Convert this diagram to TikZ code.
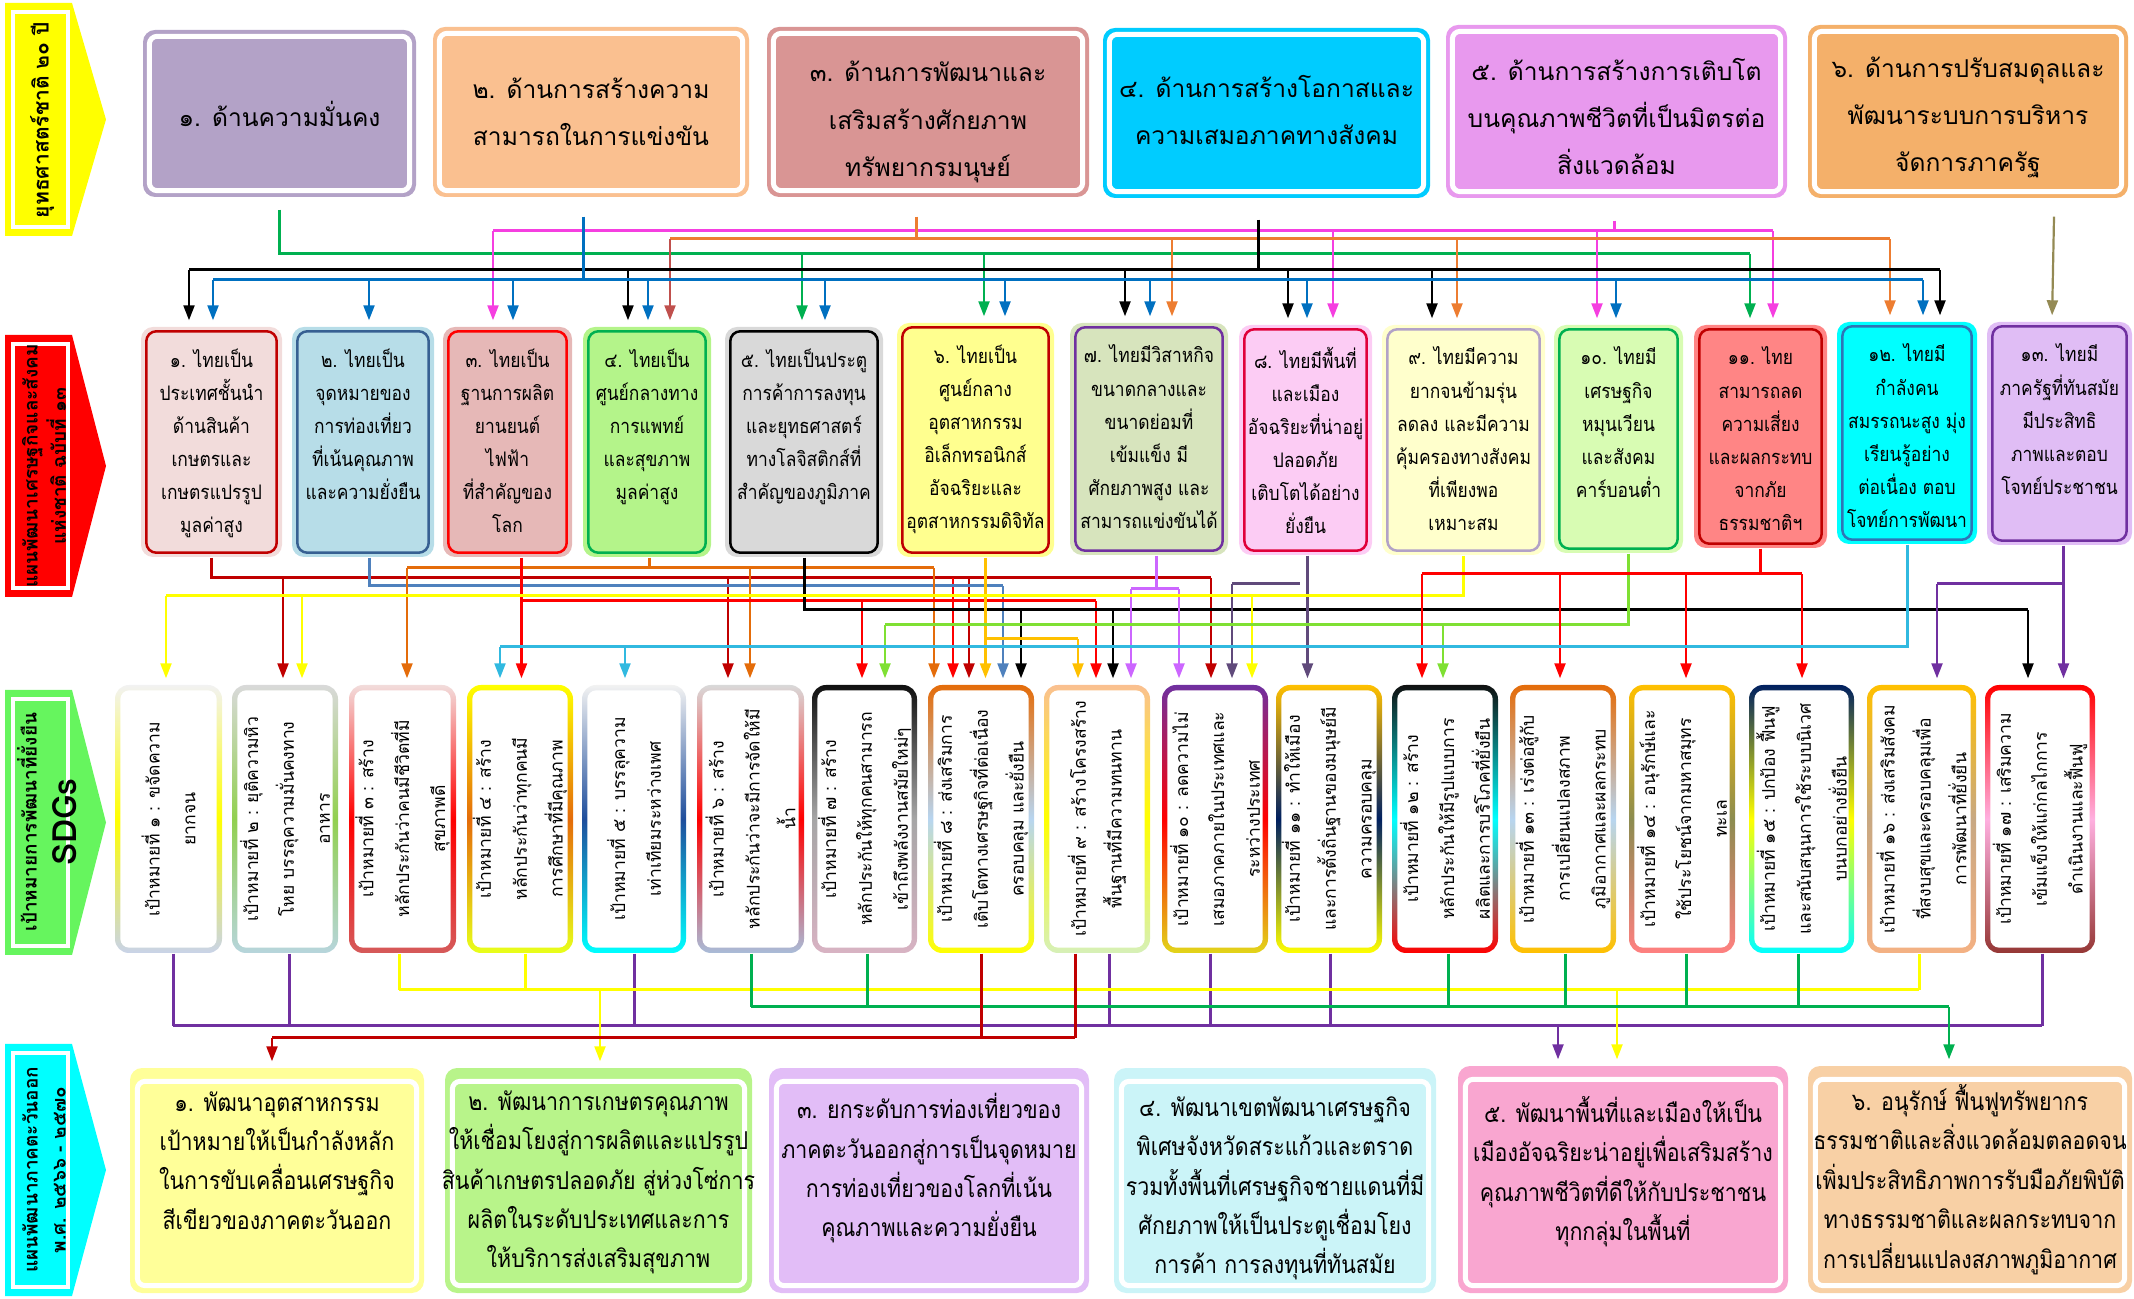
\documentclass[tikz,border=0pt]{standalone}
\usepackage{fontspec}
\newfontfamily\thai[Script=Thai]{Loma}
\newfontfamily\thaic[Script=Thai,FakeStretch=0.87]{Loma}
\usetikzlibrary{arrows.meta}

% box colours
\definecolor{tA}{HTML}{B3A2C7}
\definecolor{tB}{HTML}{FAC090}
\definecolor{tC}{HTML}{D99594}
\definecolor{tD}{HTML}{00CCFF}
\definecolor{tE}{HTML}{E899EE}
\definecolor{tF}{HTML}{F4B06A}
\definecolor{gA}{HTML}{F2DCDB}\definecolor{gAb}{HTML}{C00000}
\definecolor{gB}{HTML}{B7DDE8}\definecolor{gBb}{HTML}{376092}
\definecolor{gC}{HTML}{E6B8B7}\definecolor{gCb}{HTML}{FF0000}
\definecolor{gD}{HTML}{B4F48A}\definecolor{gDb}{HTML}{00B050}
\definecolor{gE}{HTML}{D9D9D9}\definecolor{gEb}{HTML}{000000}
\definecolor{gF}{HTML}{FFFF8F}\definecolor{gFb}{HTML}{C00000}
\definecolor{gG}{HTML}{D7E4BD}\definecolor{gGb}{HTML}{7030A0}
\definecolor{gH}{HTML}{FCCCF4}\definecolor{gHb}{HTML}{E0003A}
\definecolor{gI}{HTML}{FFFFCC}\definecolor{gIb}{HTML}{B2A2C7}
\definecolor{gJ}{HTML}{D8FCB3}\definecolor{gJb}{HTML}{00B050}
\definecolor{gK}{HTML}{FF8585}\definecolor{gKb}{HTML}{C00000}
\definecolor{gL}{HTML}{00FFFF}\definecolor{gLb}{HTML}{2E75B6}
\definecolor{gM}{HTML}{E0BDF5}\definecolor{gMb}{HTML}{7030A0}
\definecolor{eA}{HTML}{FFFF99}
\definecolor{eB}{HTML}{B8F48A}
\definecolor{eC}{HTML}{E2BDF7}
\definecolor{eD}{HTML}{CBF4F8}
\definecolor{eE}{HTML}{F9A6D0}
\definecolor{eF}{HTML}{F8D0A5}
\definecolor{sideY}{HTML}{FFFF00}
\definecolor{sideR}{HTML}{FF0000}
\definecolor{sideG}{HTML}{66F55E}
\definecolor{sideC}{HTML}{00FFFF}
% sdg frame colours
\definecolor{sGray}{HTML}{F2F2F2}\definecolor{sGrayB}{HTML}{D9D9D9}
\definecolor{sLav}{HTML}{C9D3E8}\definecolor{sTeal}{HTML}{B7D5DC}
\definecolor{sRose}{HTML}{D55A5A}\definecolor{sPinkL}{HTML}{F2DCDB}
\definecolor{sYel}{HTML}{FFFF00}\definecolor{sLime}{HTML}{E8FF1A}
\definecolor{sOrg}{HTML}{E46C0A}\definecolor{sRed}{HTML}{FF0000}
\definecolor{sCyan}{HTML}{00FFFF}\definecolor{sNavy}{HTML}{002060}
\definecolor{sBlueG}{HTML}{A9BCD8}\definecolor{sBlk}{HTML}{111111}
\definecolor{sPinkG}{HTML}{D8B3C3}\definecolor{sPeach}{HTML}{FAC090}
\definecolor{sLGreen}{HTML}{D6F0B8}\definecolor{sPurp}{HTML}{7030A0}
\definecolor{sOlive}{HTML}{E2D51A}\definecolor{sGold}{HTML}{FFC000}
\definecolor{sSalmon}{HTML}{FF8080}\definecolor{sTan}{HTML}{F4B183}
\definecolor{sMaroon}{HTML}{953735}\definecolor{sBlueMid}{HTML}{1F4E9C}
\definecolor{sGreenMid}{HTML}{92D050}\definecolor{sMidGray}{HTML}{A6A6A6}
\definecolor{sIce}{HTML}{B7D5F0}\definecolor{sKhaki}{HTML}{8C8C50}
\definecolor{sPinkMid}{HTML}{FFB0E0}\definecolor{sBeige}{HTML}{C8A882}
% connector colours
\definecolor{cGreen}{HTML}{00B050}
\definecolor{cBlue}{HTML}{0070C0}
\definecolor{cPink}{HTML}{F53FE0}
\definecolor{cOrange}{HTML}{ED7D31}
\definecolor{cRose}{HTML}{C0504D}
\definecolor{cOlive}{HTML}{948A54}
\definecolor{cDRed}{HTML}{C00000}
\definecolor{cSteel}{HTML}{4F81BD}
\definecolor{cOrg}{HTML}{E46C0A}
\definecolor{cRed}{HTML}{FF0000}
\definecolor{cGold}{HTML}{FFC000}
\definecolor{cLilac}{HTML}{CC66FF}
\definecolor{cPlum}{HTML}{604A7B}
\definecolor{cYellow}{HTML}{FFFF00}
\definecolor{cLime}{HTML}{7FE033}
\definecolor{cSky}{HTML}{31B9E0}
\definecolor{cPurple}{HTML}{7030A0}

\begin{document}
\begin{tikzpicture}[x=0.1mm, y=-0.1mm,
    bus/.style={line width=0.3mm},
    drop/.style={line width=0.22mm, -{Triangle[length=1.5mm,width=1.1mm]}, shorten >=0.6mm},
    planbox/.style={rounded corners=1.2mm, inner sep=0pt},
    plantext/.style={align=center, inner sep=0pt, font=\thai\fontsize{7}{13.4}\selectfont},
    goalbox/.style={rounded corners=1.2mm, inner sep=0pt},
    goaltext/.style={align=center, inner sep=0pt, anchor=north, font=\thaic\fontsize{5.7}{9.4}\selectfont},
    sdgbox/.style={rounded corners=1.4mm, inner sep=0pt},
    sdgtext/.style={align=center, inner sep=0pt, rotate=90, font=\thai\fontsize{5}{10.2}\selectfont},
    easttext/.style={align=center, inner sep=0pt, font=\thaic\fontsize{7}{11.2}\selectfont},
    sidetext/.style={align=center, inner sep=0pt, rotate=90, font=\thai\bfseries\fontsize{5.4}{8}\selectfont}]
\useasboundingbox (0,0) rectangle (2134,1299);

% ---- side arrows
\foreach \col/\ya/\yb in {sideY/3/236, sideR/335/597, sideG/690/955, sideC/1044/1296}{
  \pgfmathsetmacro\ym{(\ya+\yb)/2}
  \fill[\col] (5,\ya) -- (72,\ya) -- (106,\ym) -- (72,\yb) -- (5,\yb) -- cycle;
  \draw[white, line width=0.4mm] (13,\ya+9) rectangle (68,\yb-9);
}
\node[sidetext, font=\thai\bfseries\fontsize{6}{8}\selectfont] (l1) at (42,120) {ยุทธศาสตร์ชาติ ๒๐ ปี};
\node[sidetext] (l2) at (44,466) {แผนพัฒนาเศรษฐกิจและสังคม\\แห่งชาติ ฉบับที่ ๑๓};
\node[sidetext] (l3) at (47,822) {เป้าหมายการพัฒนาที่ยั่งยืน\\[1.2mm]{\fontsize{9.5}{11}\selectfont SDGs}};
\node[sidetext] (l4) at (44,1170) {แผนพัฒนาภาคตะวันออก\\พ.ศ. ๒๕๖๖ - ๒๕๗๐};

% ---- national strategy
\foreach \n/\xa/\ya/\xb/\yb/\dy/\col/\txt in {
  t1/143/30/416/197/0/tA/{๑. ด้านความมั่นคง},
  t2/433/27/749/197/0/tB/{๒. ด้านการสร้างความ\\สามารถในการแข่งขัน},
  t3/767/27/1089/197/10/tC/{๓. ด้านการพัฒนาและ\\เสริมสร้างศักยภาพ\\ทรัพยากรมนุษย์},
  t4/1103/28/1430/198/-3/tD/{๔. ด้านการสร้างโอกาสและ\\ความเสมอภาคทางสังคม},
  t5/1446/25/1787/198/5/tE/{๕. ด้านการสร้างการเติบโต\\บนคุณภาพชีวิตที่เป็นมิตรต่อ\\สิ่งแวดล้อม},
  t6/1808/25/2128/198/6/tF/{๖. ด้านการปรับสมดุลและ\\พัฒนาระบบการบริหาร\\จัดการภาครัฐ}}{
  \pgfmathsetmacro\bw{(\xb-\xa)/10}
  \pgfmathsetmacro\bh{(\yb-\ya)/10}
  \node[planbox, fill=\col, minimum width=\bw mm, minimum height=\bh mm] (\n) at ({(\xa+\xb)/2},{(\ya+\yb)/2}) {};
  \draw[white, line width=0.5mm, rounded corners=0.8mm] ([shift={(7,7)}]\n.north west) rectangle ([shift={(-7,-7)}]\n.south east);
  \node[plantext] at ([shift={(0,\dy)}]\n.center) {\txt};
}

% ---- plan 13 goals
\foreach \n/\xa/\ya/\xb/\yb/\cf/\cb/\txt in {
  r1/141/327/282/557/gA/gAb/{๑. ไทยเป็น\\ประเทศชั้นนำ\\ด้านสินค้า\\เกษตรและ\\เกษตรแปรรูป\\มูลค่าสูง},
  r2/292/327/434/557/gB/gBb/{๒. ไทยเป็น\\จุดหมายของ\\การท่องเที่ยว\\ที่เน้นคุณภาพ\\และความยั่งยืน},
  r3/443/327/572/557/gC/gCb/{๓. ไทยเป็น\\ฐานการผลิต\\ยานยนต์\\ไฟฟ้า\\ที่สำคัญของ\\โลก},
  r4/583/327/711/557/gD/gDb/{๔. ไทยเป็น\\ศูนย์กลางทาง\\การแพทย์\\และสุขภาพ\\มูลค่าสูง},
  r5/725/327/883/557/gE/gEb/{๕. ไทยเป็นประตู\\การค้าการลงทุน\\และยุทธศาสตร์\\ทางโลจิสติกส์ที่\\สำคัญของภูมิภาค},
  r6/897/323/1054/557/gF/gFb/{๖. ไทยเป็น\\ศูนย์กลาง\\อุตสาหกรรม\\อิเล็กทรอนิกส์\\อัจฉริยะและ\\อุตสาหกรรมดิจิทัล},
  r7/1070/323/1228/555/gG/gGb/{๗. ไทยมีวิสาหกิจ\\ขนาดกลางและ\\ขนาดย่อมที่\\เข้มแข็ง มี\\ศักยภาพสูง และ\\สามารถแข่งขันได้},
  r8/1239/325/1372/555/gH/gHb/{๘. ไทยมีพื้นที่\\และเมือง\\อัจฉริยะที่น่าอยู่\\ปลอดภัย\\เติบโตได้อย่าง\\ยั่งยืน},
  r9/1382/325/1545/555/gI/gIb/{๙. ไทยมีความ\\ยากจนข้ามรุ่น\\ลดลง และมีความ\\คุ้มครองทางสังคม\\ที่เพียงพอ\\เหมาะสม},
  r10/1554/325/1683/553/gJ/gJb/{๑๐. ไทยมี\\เศรษฐกิจ\\หมุนเวียน\\และสังคม\\คาร์บอนต่ำ},
  r11/1694/325/1827/548/gK/gKb/{๑๑. ไทย\\สามารถลด\\ความเสี่ยง\\และผลกระทบ\\จากภัย\\ธรรมชาติฯ},
  r12/1837/322/1977/544/gL/gLb/{๑๒. ไทยมี\\กำลังคน\\สมรรถนะสูง มุ่ง\\เรียนรู้อย่าง\\ต่อเนื่อง ตอบ\\โจทย์การพัฒนา},
  r13/1987/322/2132/545/gM/gMb/{๑๓. ไทยมี\\ภาครัฐที่ทันสมัย\\มีประสิทธิ\\ภาพและตอบ\\โจทย์ประชาชน}}{
  \pgfmathsetmacro\bw{(\xb-\xa)/10}
  \pgfmathsetmacro\bh{(\yb-\ya)/10}
  \node[goalbox, fill=\cf, minimum width=\bw mm, minimum height=\bh mm] (\n) at ({(\xa+\xb)/2},{(\ya+\yb)/2}) {};
  \draw[\cb, line width=0.25mm, rounded corners=1mm] ([shift={(6,5)}]\n.north west) rectangle ([shift={(-6,-5)}]\n.south east);
  \node[goaltext] at ([yshift=-2.2mm]\n.north) {\txt};
}

% ---- SDGs
\foreach \n/\xa/\xb/\ct/\cm/\cb/\txt in {
  s1/115/222/sGray/sYel/sLav/{เป้าหมายที่ ๑ : ขจัดความ\\ยากจน},
  s2/232/338/sGrayB/sGreenMid/sTeal/{เป้าหมายที่ ๒ : ยุติความหิว\\โหย บรรลุความมั่นคงทาง\\อาหาร},
  s3/349/456/sPinkL/sRed/sRose/{เป้าหมายที่ ๓ : สร้าง\\หลักประกันว่าคนมีชีวิตที่มี\\สุขภาพดี},
  s4/467/573/sYel/sOrg/sLime/{เป้าหมายที่ ๔ : สร้าง\\หลักประกันว่าทุกคนมี\\การศึกษาที่มีคุณภาพ},
  s5/582/686/sGray/sBlueMid/sCyan/{เป้าหมายที่ ๕ : บรรลุความ\\เท่าเทียมระหว่างเพศ},
  s6/697/804/sGrayB/sRed/sBlueG/{เป้าหมายที่ ๖ : สร้าง\\หลักประกันว่าจะมีการจัดให้มี\\น้ำ},
  s7/812/917/sBlk/sMidGray/sPinkG/{เป้าหมายที่ ๗ : สร้าง\\หลักประกันให้ทุกคนสามารถ\\เข้าถึงพลังงานสมัยใหม่ๆ},
  s8/928/1034/sOrg/sIce/sYel/{เป้าหมายที่ ๘ : ส่งเสริมการ\\เติบโตทางเศรษฐกิจที่ต่อเนื่อง\\ครอบคลุม และยั่งยืน},
  s9/1044/1150/sPeach/sYel/sLGreen/{เป้าหมายที่ ๙ : สร้างโครงสร้าง\\พื้นฐานที่มีความทนทาน},
  s10/1162/1268/sPurp/sRed/sOlive/{เป้าหมายที่ ๑๐ : ลดความไม่\\เสมอภาคภายในประเทศและ\\ระหว่างประเทศ},
  s11/1276/1382/sGold/sNavy/sYel/{เป้าหมายที่ ๑๑ : ทำให้เมือง\\และการตั้งถิ่นฐานของมนุษย์มี\\ความครอบคลุม},
  s12/1392/1498/sBlk/sCyan/sRed/{เป้าหมายที่ ๑๒ : สร้าง\\หลักประกันให้มีรูปแบบการ\\ผลิตและการบริโภคที่ยั่งยืน},
  s13/1510/1616/sOrg/sIce/sGold/{เป้าหมายที่ ๑๓ : เร่งต่อสู้กับ\\การเปลี่ยนแปลงสภาพ\\ภูมิอากาศและผลกระทบ},
  s14/1629/1735/sGold/sKhaki/sSalmon/{เป้าหมายที่ ๑๔ : อนุรักษ์และ\\ใช้ประโยชน์จากมหาสมุทร\\ทะเล},
  s15/1749/1854/sNavy/sYel/sCyan/{เป้าหมายที่ ๑๕ : ปกป้อง ฟื้นฟู\\และสนับสนุนการใช้ระบบนิเวศ\\บนบกอย่างยั่งยืน},
  s16/1867/1976/sGold/sBeige/sTan/{เป้าหมายที่ ๑๖ : ส่งเสริมสังคม\\ที่สงบสุขและครอบคลุมเพื่อ\\การพัฒนาที่ยั่งยืน},
  s17/1985/2095/sRed/sPinkMid/sMaroon/{เป้าหมายที่ ๑๗ : เสริมความ\\เข้มแข็งให้แก่กลไกการ\\ดำเนินงานและฟื้นฟู}}{
  \pgfmathsetmacro\bw{(\xb-\xa)/10}
  \node[sdgbox, top color=\ct, bottom color=\cb, middle color=\cm, minimum width=\bw mm, minimum height=26.8mm] (\n) at ({(\xa+\xb)/2},819) {};
  \fill[white, rounded corners=0.9mm] ([shift={(6,6)}]\n.north west) rectangle ([shift={(-6,-6)}]\n.south east);
  \node[sdgtext] at (\n) {\txt};
}

% ---- eastern region plan
\foreach \n/\xa/\ya/\xb/\yb/\dy/\col/\txt in {
  b1/130/1068/424/1293/-20/eA/{๑. พัฒนาอุตสาหกรรม\\เป้าหมายให้เป็นกำลังหลัก\\ในการขับเคลื่อนเศรษฐกิจ\\สีเขียวของภาคตะวันออก},
  b2/445/1068/752/1293/2/eB/{๒. พัฒนาการเกษตรคุณภาพ\\ให้เชื่อมโยงสู่การผลิตและแปรรูป\\สินค้าเกษตรปลอดภัย สู่ห่วงโซ่การ\\ผลิตในระดับประเทศและการ\\ให้บริการส่งเสริมสุขภาพ},
  b3/769/1068/1089/1293/-12/eC/{๓. ยกระดับการท่องเที่ยวของ\\ภาคตะวันออกสู่การเป็นจุดหมาย\\การท่องเที่ยวของโลกที่เน้น\\คุณภาพและความยั่งยืน},
  b4/1114/1068/1436/1293/8/eD/{๔. พัฒนาเขตพัฒนาเศรษฐกิจ\\พิเศษจังหวัดสระแก้วและตราด\\รวมทั้งพื้นที่เศรษฐกิจชายแดนที่มี\\ศักยภาพให้เป็นประตูเชื่อมโยง\\การค้า การลงทุนที่ทันสมัย},
  b5/1458/1066/1788/1293/-8/eE/{๕. พัฒนาพื้นที่และเมืองให้เป็น\\เมืองอัจฉริยะน่าอยู่เพื่อเสริมสร้าง\\คุณภาพชีวิตที่ดีให้กับประชาชน\\ทุกกลุ่มในพื้นที่},
  b6/1808/1066/2132/1293/0/eF/{๖. อนุรักษ์ ฟื้นฟูทรัพยากร\\ธรรมชาติและสิ่งแวดล้อมตลอดจน\\เพิ่มประสิทธิภาพการรับมือภัยพิบัติ\\ทางธรรมชาติและผลกระทบจาก\\การเปลี่ยนแปลงสภาพภูมิอากาศ}}{
  \pgfmathsetmacro\bw{(\xb-\xa)/10}
  \pgfmathsetmacro\bh{(\yb-\ya)/10}
  \node[planbox, fill=\col, minimum width=\bw mm, minimum height=\bh mm] (\n) at ({(\xa+\xb)/2},{(\ya+\yb)/2}) {};
  \draw[white, line width=0.5mm, rounded corners=0.8mm] ([shift={(8,14)}]\n.north west) rectangle ([shift={(-8,-8)}]\n.south east);
  \node[easttext] at ([shift={(0,\dy)}]\n.center) {\txt};
}

% ---- strategy -> goals
\draw[bus, cGreen] ([yshift=-1.2mm]t1.south) |- (1750,254);
\foreach \x/\r in {802/r5, 984/r6, 1750/r11} \draw[drop, cGreen] (\x,254) -- (\x,0 |- \r.north);
\draw[bus, cPink] ([xshift=-0.2mm,yshift=-2.2mm]t5.south) |- (493,231) -- (1773,231);
\foreach \x/\r in {493/r3, 1333/r8, 1597/r10, 1773/r11} \draw[drop, cPink] (\x,231) -- (\x,0 |- \r.north);
\draw[bus, cOrange] ([xshift=-1.2mm,yshift=-1.9mm]t3.south) |- (670,239) -- (1890,239);
\draw[drop, cRose] (670,239) -- (670,0 |- r4.north);
\foreach \x/\r in {1172/r7, 1457/r9, 1890/r12} \draw[drop, cOrange] (\x,239) -- (\x,0 |- \r.north);
\draw[bus, black] ([xshift=-0.8mm,yshift=-2.1mm]t4.south) |- (189,270) -- (1940,270);
\foreach \x/\r in {189/r1, 628/r4, 1125/r7, 1288/r8, 1432/r9, 1940/r12} \draw[drop, black] (\x,270) -- (\x,0 |- \r.north);
\draw[bus, cBlue] ([xshift=-0.8mm,yshift=-1.9mm]t2.south) |- (213,280) -- (1923,280);
\foreach \x/\r in {213/r1, 369/r2, 513/r3, 648/r4, 825/r5, 1005/r6, 1150/r7, 1307/r8, 1616/r10, 1923/r12} \draw[drop, cBlue] (\x,280) -- (\x,0 |- \r.north);
\draw[drop, cOlive] ([xshift=8.6mm,yshift=-1.8mm]t6.south) -- (2052,0 |- r13.north);

% ---- goals -> SDGs
\draw[bus, cDRed] (r1.south) |- (1211,578);
\foreach \x/\s in {283/s2, 728/s6, 969/s8, 1211/s10} \draw[drop, cDRed] (\x,578) -- (\x,0 |- \s.north);
\draw[drop, cRed] (953,578) -- (953,0 |- s8.north);
\draw[bus, cSteel] ([xshift=0.6mm]r2.south) |- (1003,586);
\draw[drop, cSteel] (1003,586) -- (1003,0 |- s8.north);
\draw[bus, cOrg] ([xshift=0.2mm]r4.south) |- (407,568) -- (934,568);
\foreach \x/\s in {407/s3, 750/s6, 934/s8} \draw[drop, cOrg] (\x,568) -- (\x,0 |- \s.north);
\draw[drop, cRed] ([xshift=1.4mm]r3.south) -- ([xshift=1.4mm]r3.south |- s4.north);
\draw[bus, cRed] (521,601) -- (1096,601);
\foreach \x/\s in {862/s7, 1096/s9} \draw[drop, cRed] (\x,601) -- (\x,0 |- \s.north);
\draw[bus, black] (r5.south) |- (2028,610);
\foreach \x/\s in {1021/s8, 1113/s9, 2028/s17} \draw[drop, black] (\x,610) -- (\x,0 |- \s.north);
\draw[drop, cGold] ([xshift=1mm]r6.south) -- ([xshift=1mm]r6.south |- s8.north);
\draw[bus, cGold] (985,639) -- (1078,639);
\draw[drop, cGold] (1078,639) -- (1078,0 |- s9.north);
\draw[bus, cLilac] ([xshift=0.7mm]r7.south) |- (1131,589) -- (1179,589);
\foreach \x/\s in {1131/s9, 1179/s10} \draw[drop, cLilac] (\x,589) -- (\x,0 |- \s.north);
\draw[drop, cPlum] ([xshift=0.2mm]r8.south) -- ([xshift=0.2mm]r8.south |- s11.north);
\draw[bus, cPlum] (1232,584) -- (1300,584);
\draw[drop, cPlum] (1232,584) -- (1232,0 |- s10.north);
\draw[bus, cYellow] (r9.south) |- (166,596);
\foreach \x/\s in {166/s1, 302/s2, 1252/s10} \draw[drop, cYellow] (\x,596) -- (\x,0 |- \s.north);
\draw[bus, cLime] ([xshift=1mm]r10.south) |- (885,625);
\foreach \x/\s in {885/s7, 1443/s12} \draw[drop, cLime] (\x,625) -- (\x,0 |- \s.north);
\draw[bus, cRed] (r11.south) |- (1422,574) -- (1802,574);
\foreach \x/\s in {1422/s12, 1560/s13, 1686/s14, 1802/s15} \draw[drop, cRed] (\x,574) -- (\x,0 |- \s.north);
\draw[bus, cSky] (r12.south) |- (500,647);
\foreach \x/\s in {500/s4, 625/s5} \draw[drop, cSky] (\x,647) -- (\x,0 |- \s.north);
\draw[drop, cPurple] ([xshift=0.4mm]r13.south) -- ([xshift=0.4mm]r13.south |- s17.north);
\draw[bus, cPurple] (1937,584) -- (2065,584);
\draw[drop, cPurple] (1937,584) -- (1937,0 |- s16.north);

% ---- SDGs -> eastern plan
\foreach \x/\s in {173/s1, 289/s2, 634/s5, 1109/s9, 1210/s10, 1330/s11, 2042/s17} \draw[bus, cPurple] (\x,0 |- \s.south) -- (\x,1026);
\draw[bus, cPurple] (173,1026) -- (2042,1026);
\draw[drop, cPurple] (1558,1026) -- (1558,0 |- b5.north);
\foreach \x/\s in {399/s3, 525/s4, 1919/s16} \draw[bus, cYellow] (\x,0 |- \s.south) -- (\x,990);
\draw[bus, cYellow] (399,990) -- (1919,990);
\foreach \x/\b in {600/b2, 1617/b5} \draw[drop, cYellow] (\x,990) -- (\x,0 |- \b.north);
\foreach \x/\s in {751/s6, 867/s7, 1448/s12, 1565/s13, 1686/s14, 1798/s15} \draw[bus, cGreen] (\x,0 |- \s.south) -- (\x,1007);
\draw[bus, cGreen] (751,1007) -- (1949,1007);
\draw[drop, cGreen] (1949,1007) -- (1949,0 |- b6.north);
\foreach \x/\s in {981/s8, 1075/s9} \draw[bus, cDRed] (\x,0 |- \s.south) -- (\x,1038);
\draw[bus, cDRed] (1075,1038) -- (272,1038);
\draw[drop, cDRed] (272,1038) -- (272,0 |- b1.north);
\end{tikzpicture}
\end{document}
